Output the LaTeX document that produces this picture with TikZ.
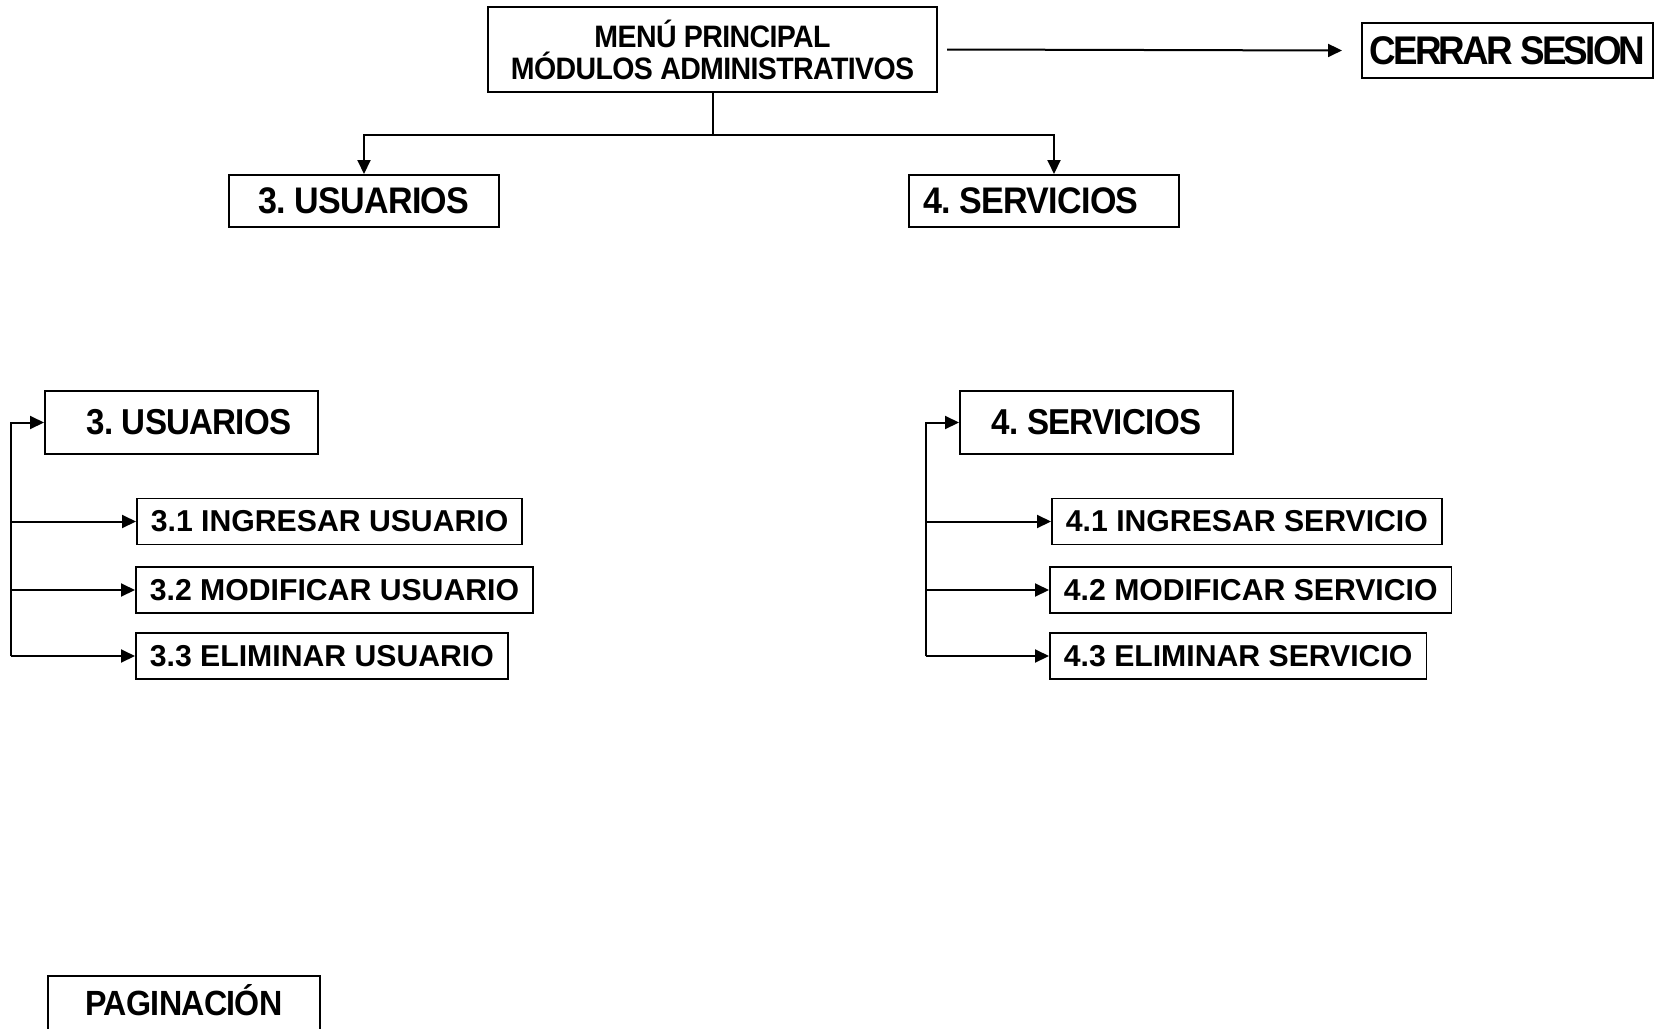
\documentclass[tikz,border=0pt]{standalone}
\usepackage{fontspec}
\setmainfont{Liberation Sans}
\newfontfamily\hdfont{Liberation Sans}[FakeStretch=0.92,LetterSpace=-2]
\usetikzlibrary{arrows.meta}
\frenchspacing

\tikzset{
  box/.style={draw, line width=2pt, inner sep=0pt, align=center},
  head/.style={box, font=\hdfont\bfseries\fontsize{#1}{32}\selectfont},
  item/.style={draw, line width=1.8pt, anchor=west, inner xsep=14pt, minimum height=46pt,
               font=\bfseries\fontsize{30.2}{32}\selectfont},
  link/.style={line width=2pt, -{Triangle[length=14pt,width=13pt]}},
}

\begin{document}
\begin{tikzpicture}[x=1pt, y=-1pt]
  \useasboundingbox (0,0) rectangle (1665,1028);
  \clip (0,0) rectangle (1665,1028);
  % main menu
  \node[head=31, minimum width=449pt, minimum height=85pt] (menu) at (712.5,49.5)
       {MENÚ PRINCIPAL\\MÓDULOS ADMINISTRATIVOS};
  \node[head=40, minimum width=291pt, minimum height=55pt] (cerrar) at (1507.5,50.5)
       {\addfontfeature{LetterSpace=-7}CERRAR SESION};
  \node[head=37, minimum width=270pt, minimum height=52pt] (usr) at (364,201) {3. USUARIOS};
  \node[head=37, minimum width=270pt, minimum height=52pt] (srv) at (1044,201)
       {4. SERVICIOS\hspace*{26pt}};
  % menu links
  \draw[line width=2pt] (menu.south) -- ++(0,42) coordinate (fork);
  \draw[link] (fork) -| (usr.north);
  \draw[link] (fork) -| ([xshift=10pt]srv.north);
  \draw[link] ([xshift=9pt]menu.east) -- ([xshift=-19pt]cerrar.west);

  % usuarios
  \node[head=36, minimum width=273pt, minimum height=63pt] (usr2) at (181.5,422.5)
       {\hspace*{15pt}3. USUARIOS};
  \node[item] (usr31) at (136,521.5) {3.1 INGRESAR USUARIO};
  \node[item] (usr32) at (135,590) {3.2 MODIFICAR USUARIO};
  \node[item] (usr33) at (135,656) {3.3 ELIMINAR USUARIO};
  \coordinate (ubus) at (11,656);
  \draw[link] (ubus) |- (usr2);
  \draw[link] (ubus) |- (usr31);
  \draw[link] (ubus) |- (usr32);
  \draw[link] (ubus) -- (usr33);

  % servicios
  \node[head=36, minimum width=273pt, minimum height=63pt] (srv2) at (1096.5,422.5) {4. SERVICIOS};
  \node[item] (srv41) at (1051,521.5) {4.1 INGRESAR SERVICIO};
  \node[item] (srv42) at (1049,590) {4.2 MODIFICAR SERVICIO};
  \node[item] (srv43) at (1049,656) {4.3 ELIMINAR SERVICIO};
  \coordinate (sbus) at (926,656);
  \draw[link] (sbus) |- (srv2);
  \draw[link] (sbus) |- (srv41);
  \draw[link] (sbus) |- (srv42);
  \draw[link] (sbus) -- (srv43);

  % paginacion (cut off by the page edge)
  \node[head=35, minimum width=272pt, minimum height=64pt, text height=25pt, text depth=10pt]
       (pag) at (184,1008) {PAGINACIÓN};
\end{tikzpicture}
\end{document}
